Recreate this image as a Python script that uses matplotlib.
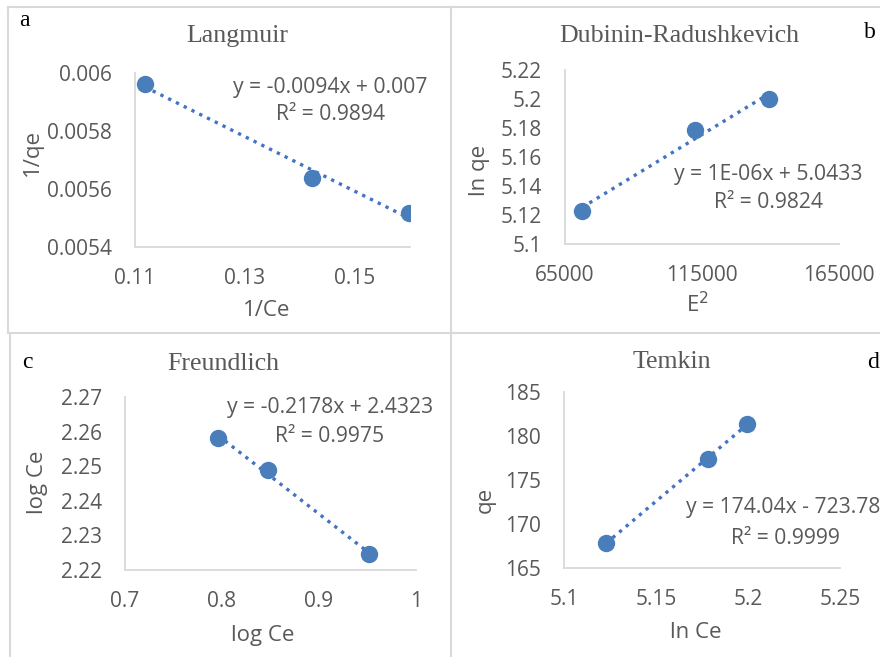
import numpy as np
import matplotlib.pyplot as plt
from matplotlib.lines import Line2D

W, H = 880, 657

# data
lang_x = [0.1118, 0.1422, 0.1598]
lang_y = [0.005962, 0.005638, 0.005517]
dr_x = [71200, 112400, 139500]
dr_y = [5.1228, 5.1786, 5.2000]
fr_x = [0.796, 0.847, 0.9515]
fr_y = [2.2581, 2.2489, 2.2246]
tem_x = [5.1228, 5.1783, 5.1995]
tem_y = [167.84, 177.4, 181.4]

titles = ['Langmuir', 'Dubinin-Radushkevich', 'Freundlich', 'Temkin']
letters = ['a', 'b', 'c', 'd']
xlabels = ['1/Ce', 'E$^2$', 'log Ce', 'ln Ce']
ylabels = ['1/qe', 'ln qe', 'log Ce', 'qe']
equations = ['y = -0.0094x + 0.007', 'y = 1E-06x + 5.0433',
             'y = -0.2178x + 2.4323', 'y = 174.04x - 723.78']
r2 = ['R² = 0.9894', 'R² = 0.9824', 'R² = 0.9975', 'R² = 0.9999']
xticks = [[0.11, 0.13, 0.15], [65000, 115000, 165000],
          [0.7, 0.8, 0.9, 1.0], [5.1, 5.15, 5.2, 5.25]]
xticklabels = [['0.11', '0.13', '0.15'], ['65000', '115000', '165000'],
               ['0.7', '0.8', '0.9', '1'], ['5.1', '5.15', '5.2', '5.25']]
yticks = [[0.0054, 0.0056, 0.0058, 0.006],
          [5.1, 5.12, 5.14, 5.16, 5.18, 5.2, 5.22],
          [2.22, 2.23, 2.24, 2.25, 2.26, 2.27],
          [165, 170, 175, 180, 185]]
yticklabels = [['0.0054', '0.0056', '0.0058', '0.006'],
               ['5.1', '5.12', '5.14', '5.16', '5.18', '5.2', '5.22'],
               ['2.22', '2.23', '2.24', '2.25', '2.26', '2.27'],
               ['165', '170', '175', '180', '185']]
xlims = [(0.11, 0.16), (65000, 165000), (0.7, 1.0), (5.1, 5.25)]
ylims = [(0.0054, 0.006), (5.1, 5.22), (2.22, 2.27), (165, 185)]
xs = [lang_x, dr_x, fr_x, tem_x]
ys = [lang_y, dr_y, fr_y, tem_y]

# layout in pixels: (left, right, top, bottom) of each plot area
boxes = [(135, 410, 73, 247), (565, 839, 70, 244),
         (125, 416, 397, 570), (564, 840, 392, 568)]
title_pos = [(237, 36), (679, 36), (223, 364), (672, 362)]
letter_pos = [(24, 20), (870, 32), (27, 363), (873, 362)]
xlabel_pos = [(267, 310), (697, 305), (263, 635), (696, 632)]
ylabel_pos = [(32, 153), (480, 170), (37, 482), (485, 500)]
eq_pos = [(330, 87), (768, 175), (330, 407), (783, 508)]
r2_pos = [(330, 115), (768, 203), (330, 436), (785, 538)]

blue = '#4a7ebb'
line_blue = '#4472c4'
grey_text = '#595959'
axis_grey = '#d9d9d9'
sans = ['Open Sans', 'DejaVu Sans']
serif = ['Liberation Serif', 'DejaVu Serif']


def fx(x):
    return x / W


def fy(y):
    return 1 - y / H


fig = plt.figure(figsize=(W / 100, H / 100), dpi=100)

# panel frame lines
for (x0, y0, x1, y1) in [(8, 7, 880, 7), (8, 7, 8, 333), (10, 333, 880, 333),
                         (10, 333, 10, 657), (451, 7, 451, 657)]:
    fig.add_artist(Line2D([fx(x0), fx(x1)], [fy(y0), fy(y1)], color=axis_grey, lw=1.5))

for i in range(4):
    l, r, t, b = boxes[i]
    ax = fig.add_axes([fx(l), fy(b), (r - l) / W, (b - t) / H])
    x = np.array(xs[i])
    y = np.array(ys[i])
    k, c = np.polyfit(x, y, 1)
    xx = np.array([x.min(), x.max()])
    ax.plot(xx, k * xx + c, linestyle=(0, (1, 1.6)), lw=2.4, color=line_blue, zorder=2)
    ax.plot(x, y, 'o', ms=11.5, color=blue, zorder=3)
    ax.set_xlim(*xlims[i])
    ax.set_ylim(*ylims[i])
    ax.set_xticks(xticks[i])
    ax.set_xticklabels(xticklabels[i])
    ax.set_yticks(yticks[i])
    ax.set_yticklabels(yticklabels[i])
    ax.tick_params(length=0, labelsize=15, labelcolor=grey_text)
    ax.tick_params(axis='y', pad=16.5)
    ax.tick_params(axis='x', pad=15)
    for lab in ax.get_xticklabels() + ax.get_yticklabels():
        lab.set_family(sans)
    for s in ['top', 'right']:
        ax.spines[s].set_visible(False)
    for s in ['left', 'bottom']:
        ax.spines[s].set_color(axis_grey)
        ax.spines[s].set_linewidth(1.3)
    ax.patch.set_alpha(0)

    fig.text(fx(title_pos[i][0]), fy(title_pos[i][1]), titles[i], ha='center', va='center',
             fontsize=18.6, color=grey_text, family=serif)
    fig.text(fx(letter_pos[i][0]), fy(letter_pos[i][1]), letters[i], ha='center', va='center',
             fontsize=17, color='black', family=serif)
    fig.text(fx(xlabel_pos[i][0]), fy(xlabel_pos[i][1]), xlabels[i], ha='center', va='center',
             fontsize=16, color=grey_text, family=sans)
    fig.text(fx(ylabel_pos[i][0]), fy(ylabel_pos[i][1]), ylabels[i], ha='center', va='center',
             fontsize=16, color=grey_text, family=sans, rotation=90)
    fig.text(fx(eq_pos[i][0]), fy(eq_pos[i][1]), equations[i], ha='center', va='center',
             fontsize=15.2, color=grey_text, family=sans)
    fig.text(fx(r2_pos[i][0]), fy(r2_pos[i][1]), r2[i], ha='center', va='center',
             fontsize=15.2, color=grey_text, family=sans)

fig.savefig('out.png', dpi=100)
